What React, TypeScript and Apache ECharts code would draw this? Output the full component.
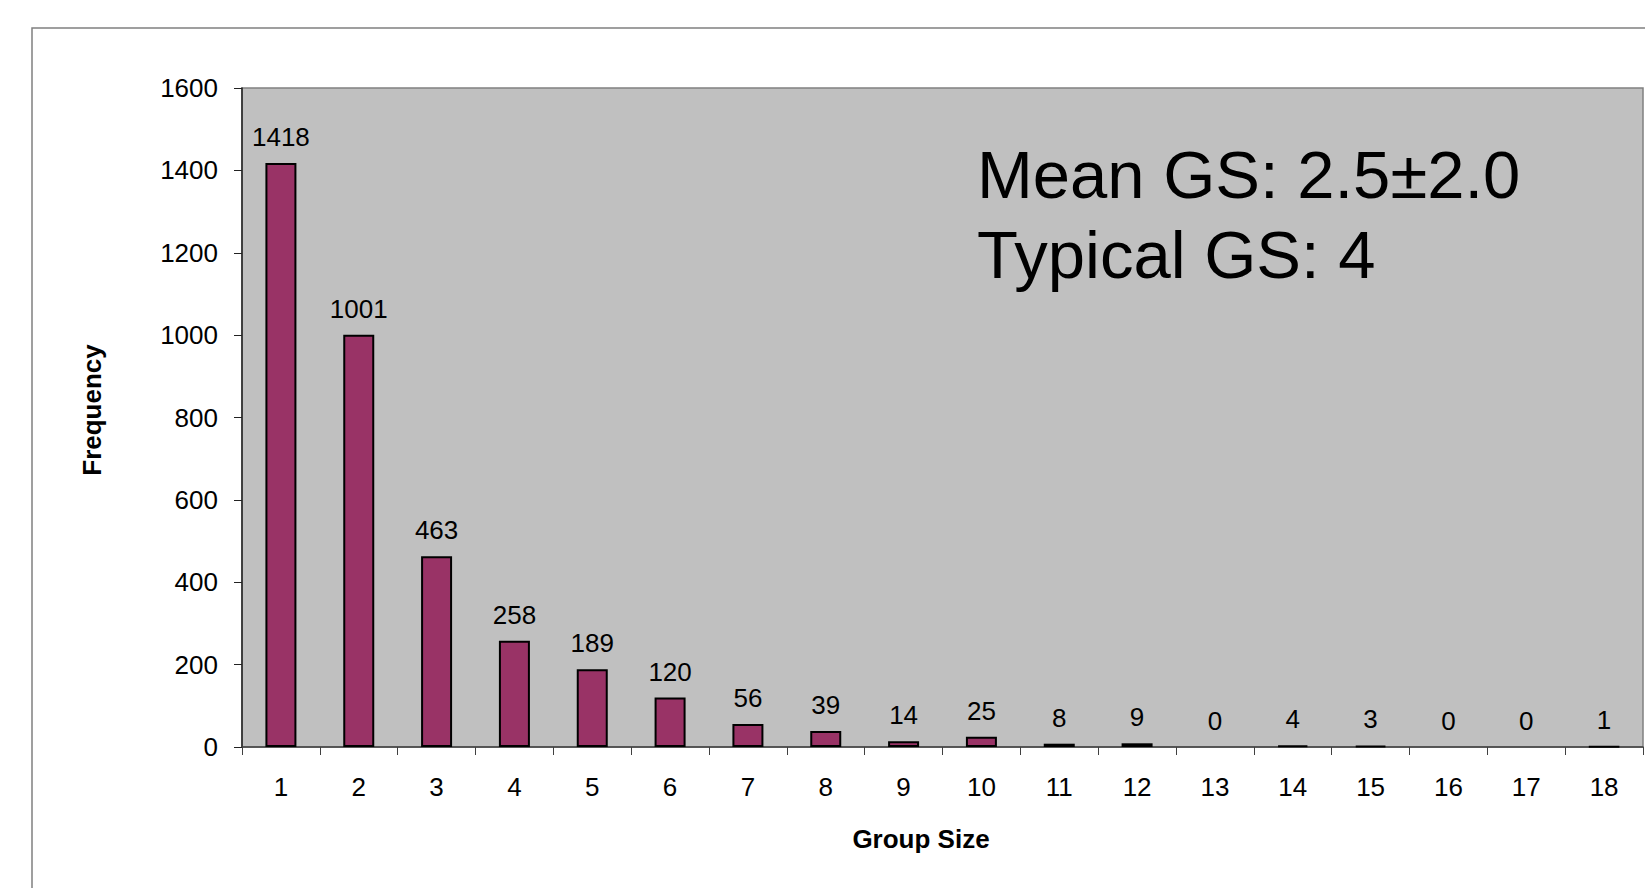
import React, { useEffect, useRef } from "react";
import * as echarts from "echarts";

const categories = ["1","2","3","4","5","6","7","8","9","10","11","12","13","14","15","16","17","18"];
const frequency = [1418, 1001, 463, 258, 189, 120, 56, 39, 14, 25, 8, 9, 0, 4, 3, 0, 0, 1];
const yTicks = { min: 0, max: 1600, interval: 200 };
const annotationLines = ["Mean GS: 2.5±2.0", "Typical GS: 4"];
const xTitle = "Group Size";
const yTitle = "Frequency";

const FONT = "'Liberation Sans', Arial, sans-serif";

export default function App() {
  const ref = useRef<HTMLDivElement>(null);
  useEffect(() => {
    if (!ref.current) return;
    const chart = echarts.init(ref.current, undefined, { renderer: "svg" });
    const gridLeft = 242, gridTop = 88, gridRight = 2, gridBottom = 141;
    chart.setOption({
      animation: false,
      backgroundColor: "#ffffff",
      textStyle: { fontFamily: FONT },
      grid: {
        left: gridLeft, top: gridTop, right: gridRight, bottom: gridBottom,
        show: true, backgroundColor: "#C0C0C0", borderColor: "#808080", borderWidth: 1.5,
      },
      xAxis: {
        type: "category",
        data: categories,
        axisLine: { lineStyle: { color: "#404040", width: 1.5 } },
        axisTick: { show: true, length: 8, lineStyle: { color: "#404040", width: 1 } },
        axisLabel: { color: "#000", fontSize: 26, margin: 27, fontFamily: FONT },
      },
      yAxis: {
        type: "value",
        min: yTicks.min, max: yTicks.max, interval: yTicks.interval,
        splitLine: { show: false },
        axisLine: { show: true, lineStyle: { color: "#222", width: 1.5 } },
        axisTick: { show: true, length: 8, lineStyle: { color: "#222", width: 1 } },
        axisLabel: { color: "#000", fontSize: 26, margin: 24, fontFamily: FONT, formatter: (v: number) => String(v) },
      },
      graphic: [
        { type: "rect", silent: true, z: -10, shape: { x: 32, y: 28, width: 1700, height: 1000 },
          style: { fill: "none", stroke: "#808080", lineWidth: 1.5 } },
        { type: "text", x: 977, y: 174, z: 10,
          style: { text: annotationLines[0], fontSize: 67, fontFamily: FONT, fill: "#000", verticalAlign: "middle" } },
        { type: "text", x: 977, y: 254, z: 10,
          style: { text: annotationLines[1], fontSize: 67, fontFamily: FONT, fill: "#000", verticalAlign: "middle" } },
        { type: "text", x: 921, y: 839, z: 10,
          style: { text: xTitle, fontSize: 26, fontWeight: "bold", fontFamily: FONT, fill: "#000", align: "center", verticalAlign: "middle" } },
        { type: "text", x: 92, y: 410, rotation: Math.PI / 2, z: 10,
          style: { text: yTitle, fontSize: 26, fontWeight: "bold", fontFamily: FONT, fill: "#000", align: "center", verticalAlign: "middle" } },
      ],
      series: [
        {
          type: "bar",
          barWidth: 31,
          data: frequency.map((v) => (v === 0 ? { value: v, itemStyle: { borderWidth: 0 } } : v)),
          itemStyle: { color: "#993366", borderColor: "#000", borderWidth: 2 },
          label: { show: true, position: "top", distance: 13, color: "#000", fontSize: 26, fontFamily: FONT },
        },
      ],
    });
    return () => chart.dispose();
  }, []);
  return <div ref={ref} style={{ position: "fixed", left: 0, top: 0, width: 1645, height: 888 }} />;
}
